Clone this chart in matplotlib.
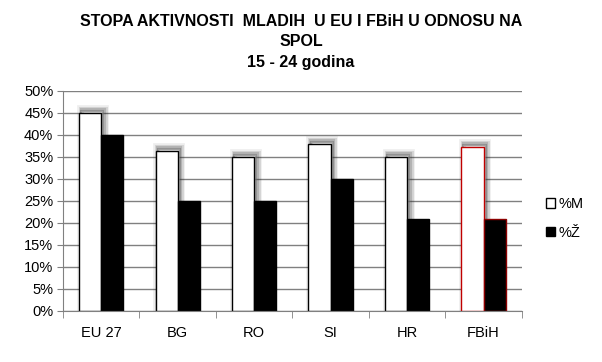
import matplotlib
matplotlib.use("Agg")
import matplotlib.pyplot as plt
import matplotlib.patheffects as pe
from matplotlib.patches import Patch
import numpy as np
from matplotlib.ticker import FixedLocator, PercentFormatter

plt.rcParams['font.family'] = ['Liberation Sans', 'DejaVu Sans']

categories = ["EU 27", "BG", "RO", "SI", "HR", "FBiH"]
male = [45, 36.4, 35, 38, 35, 37.3]
female = [40, 25, 25, 30, 21, 21]
series_labels = ["%M", "%Ž"]
title = "STOPA AKTIVNOSTI  MLADIH  U EU I FBiH U ODNOSU NA\nSPOL\n15 - 24 godina"

fig = plt.figure(figsize=(6.02, 3.62), dpi=100)
ax = fig.add_axes([0.1047, 0.141, 0.762, 0.608])

x = np.arange(len(categories))
w = 0.29
edge_m = ['black'] * 5 + ['#c00000']
edge_f = ['black'] * 5 + ['#8b0000']
shadow = [pe.Stroke(offset=(2, 2), linewidth=7, foreground='#222222', alpha=0.08),
          pe.Stroke(offset=(2, 2), linewidth=5, foreground='#222222', alpha=0.12),
          pe.Stroke(offset=(2, 2), linewidth=3, foreground='#222222', alpha=0.18),
          pe.Stroke(offset=(1.5, 1.5), linewidth=1.5, foreground='#222222', alpha=0.25),
          pe.Normal()]
bm = ax.bar(x - w / 2, male, w, color='white', edgecolor=edge_m, linewidth=1.0, zorder=3)
for b in bm:
    b.set_path_effects(shadow)
bf = ax.bar(x + w / 2, female, w, color='black', edgecolor=edge_f, linewidth=1.0, zorder=4)

ax.set_xlim(-0.5, len(categories) - 0.5)
ax.set_ylim(0, 50)
ax.yaxis.set_major_locator(FixedLocator(np.arange(0, 51, 5)))
ax.yaxis.set_major_formatter(PercentFormatter(decimals=0))
ax.grid(axis='y', color='#808080', linewidth=1.0, zorder=0)
ax.set_axisbelow(True)

ax.set_xticks(x)
ax.set_xticklabels(categories)
ax.set_xticks(np.arange(-0.5, len(categories), 1), minor=True)
ax.tick_params(axis='x', which='major', length=0, pad=11, labelsize=10.5)
ax.tick_params(axis='x', which='minor', length=5, color='#808080', direction='out')
ax.tick_params(axis='y', length=4, color='#808080', labelsize=10.5, pad=3)

for s in ['top', 'right']:
    ax.spines[s].set_visible(False)
for s in ['left', 'bottom']:
    ax.spines[s].set_color('#808080')
    ax.spines[s].set_zorder(5)

fig.text(0.5, 0.962, title, ha='center', va='top', fontsize=11.5, fontweight='bold',
         linespacing=1.45)

handles = [Patch(facecolor='white', edgecolor='black', linewidth=1.0),
           Patch(facecolor='black', edgecolor='black', linewidth=1.0)]
leg = fig.legend(handles=handles, labels=series_labels, loc='center left',
                 bbox_to_anchor=(0.907, 0.397), frameon=False, fontsize=10.5,
                 handlelength=0.65, handleheight=0.65, handletextpad=0.2,
                 labelspacing=1.0, borderaxespad=0, borderpad=0)

fig.savefig("out.png", dpi=100)
